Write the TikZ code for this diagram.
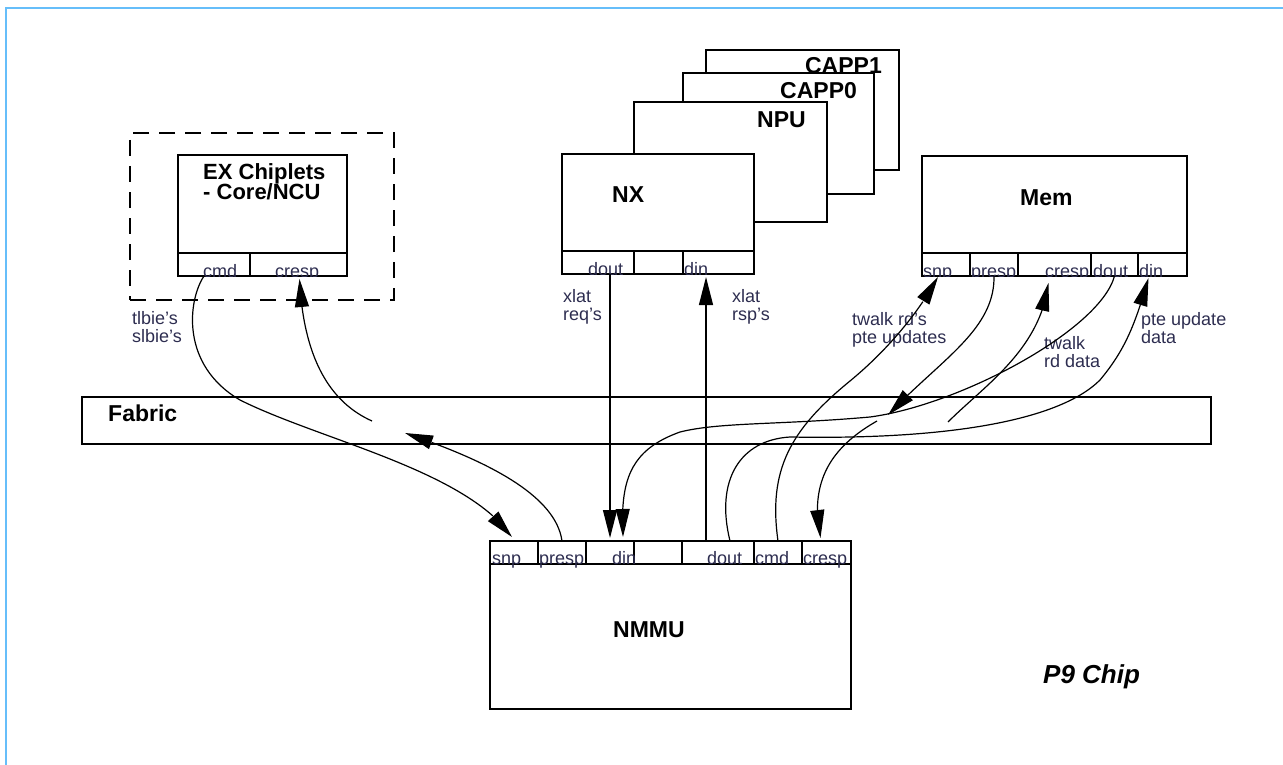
\documentclass[tikz,border=0pt]{standalone}
\usepackage{fontspec}
\setmainfont{Liberation Sans}
\usetikzlibrary{arrows.meta,bending,calc}
\definecolor{frameblue}{RGB}{102,190,250}
\definecolor{labelc}{RGB}{45,45,80}
\setlength{\lineskiplimit}{-100pt}
\tikzset{
  box/.style={draw, line width=1.6pt, fill=white, inner sep=0pt, outer sep=0pt, anchor=north west},
  port/.style={box, minimum height=23pt},
  dashframe/.style={draw, line width=1.6pt, dash pattern=on 16pt off 10pt, inner sep=0pt, outer sep=0pt, anchor=north west},
  title/.style={font=\bfseries\fontsize{23}{19}\selectfont, inner sep=0pt, anchor=base west, text=black},
  lab/.style={font=\fontsize{18}{18}\selectfont, inner sep=0pt, text=labelc, align=left, anchor=north west},
  plab/.style={font=\fontsize{18}{18}\selectfont, inner sep=0pt, text=labelc, anchor=base west},
  flow/.style={line width=1.2pt},
  arr/.style={flow, -{Triangle[length=28pt,width=14pt]}},
}
\begin{document}
\begin{tikzpicture}[x=1pt,y=-1pt]
\useasboundingbox (0,0) rectangle (1283,765);
\draw[frameblue, line width=2.5pt] (1283,8) -- (6,8) -- (6,765);

% EX chiplets
\node[dashframe, minimum width=264pt, minimum height=167pt] (exframe) at (130,133) {};
\node[box, minimum width=169pt, minimum height=121pt] (ex) at (178,155) {};
\node[port, minimum width=72pt] (excmd) at (178,253) {};
\node[port, minimum width=97pt] (excresp) at (250,253) {};
\node[lab, font=\bfseries\fontsize{22}{20}\selectfont, text=black] (extxt) at (203,163) {EX Chiplets\\- Core/NCU};
\begin{scope}
  \clip (excmd.north west) rectangle (excresp.south east);
  \node[plab] (excmdl) at (203,277) {cmd};
  \node[plab] (excrespl) at (275,277) {cresp};
\end{scope}

% NX stack
\node[box, minimum width=193pt, minimum height=120pt] (capp1) at (706,50) {};
\node[title, anchor=base east] (capp1t) at (882,74) {CAPP1};
\node[box, minimum width=191pt, minimum height=121pt] (capp0) at (683,73) {};
\node[title] (capp0t) at (780,99) {CAPP0};
\node[box, minimum width=193pt, minimum height=120pt] (npu) at (634,102) {};
\node[title] (nput) at (757,128) {NPU};
\node[box, minimum width=192pt, minimum height=120pt] (nx) at (562,154) {};
\node[title] (nxt) at (612,202) {NX};
\node[port, minimum width=72pt] (nxdout) at (562,251) {};
\node[port, minimum width=49pt] (nxmid) at (634,251) {};
\node[port, minimum width=71pt] (nxdin) at (683,251) {};
\begin{scope}
  \clip (nxdout.north west) rectangle (nxdin.south east);
  \node[plab] (nxdoutl) at (588,275) {dout};
  \node[plab] (nxdinl) at (684,275) {din};
\end{scope}

% Mem
\node[box, minimum width=265pt, minimum height=120pt] (mem) at (922,156) {};
\node[title] (memt) at (1020,205) {Mem};
\node[port, minimum width=48pt] (msnp) at (922,253) {};
\node[port, minimum width=48pt] (mpresp) at (970,253) {};
\node[port, minimum width=73pt] (mcresp) at (1018,253) {};
\node[port, minimum width=47pt] (mdout) at (1091,253) {};
\node[port, minimum width=49pt] (mdin) at (1138,253) {};
\begin{scope}
  \clip (msnp.north west) rectangle (mdin.south east);
  \node[plab] (msnpl) at (923,277) {snp};
  \node[plab] (mprespl) at (971,277) {presp};
  \node[plab] (mcrespl) at (1045,277) {cresp};
  \node[plab] (mdoutl) at (1093,277) {dout};
  \node[plab] (mdinl) at (1139,277) {din};
\end{scope}

% Fabric
\node[box, minimum width=1129pt, minimum height=47pt] (fabric) at (82,397) {};
\node[title] (fabrict) at (108,421) {Fabric};

% NMMU
\node[box, minimum width=361pt, minimum height=168pt] (nmmu) at (490,541) {};
\node[title] (nmmut) at (613,637) {NMMU};
\node[port, minimum height=23pt, minimum width=48pt] (nsnp) at (490,541) {};
\node[port, minimum height=23pt, minimum width=48pt] (npresp) at (538,541) {};
\node[port, minimum height=23pt, minimum width=48pt] (ndin) at (586,541) {};
\node[port, minimum height=23pt, minimum width=48pt] (nblank) at (634,541) {};
\node[port, minimum height=23pt, minimum width=72pt] (ndout) at (682,541) {};
\node[port, minimum height=23pt, minimum width=48pt] (ncmd) at (754,541) {};
\node[port, minimum height=23pt, minimum width=49pt] (ncresp) at (802,541) {};
\node[plab] (nsnpl) at (492,564) {snp};
\node[plab] (nprespl) at (539,564) {presp};
\node[plab] (ndinl) at (612,564) {din};
\node[plab] (ndoutl) at (707,564) {dout};
\node[plab] (ncmdl) at (755,564) {cmd};
\node[plab] (ncrespl) at (803,564) {cresp};

\node[title, font=\bfseries\itshape\fontsize{26}{26}\selectfont] (chip) at (1043,683) {P9 Chip};

% flow labels
\node[lab] (l1) at (132,311) {tlbie's\\slbie's};
\node[lab] (l2) at (563,289) {xlat\\req's};
\node[lab] (l3) at (732,289) {xlat\\rsp's};
\node[lab] (l4) at (852,312) {twalk rd's\\pte updates};
\node[lab] (l5) at (1044,336) {twalk\\rd data};
\node[lab] (l6) at (1141,312) {pte update\\data};

% free ends inside the fabric
\coordinate (fabL1) at (405,433);
\coordinate (fabL2) at (372,421);
\coordinate (fabR1) at (888,415);
\coordinate (fabR2) at (877,421);
\coordinate (fabR3) at (948,422);

% connectors
\draw[arr] ($(excmd.south)+(-10,0)$) .. controls (188,300) and (180,365) .. (240,400) .. controls (320,440) and (465,470) .. ($(nsnp.north)+(-2,-4)$);
\draw[arr] (npresp.north) .. controls (555,490) and (470,455) .. (fabL1);
\draw[arr] (fabL2) .. controls (325,400) and (303,350) .. ($(excresp.south)+(1,3)$);
\draw[arr] (ndin.north |- nxdout.south) -- ($(ndin.north)+(0,-3)$);
\draw[arr] ($(ndout.north)+(-12,0)$) -- ($(nxdin.south)+(-12.5,3)$);
\draw[arr] (mdout.south) .. controls (1100,330) and (960,405) .. (870,417) .. controls (780,425) and (720,422) .. (680,432) .. controls (630,450) and (620,480) .. ($(ndin.north)+(13,-4)$);
\draw[arr] (ncmd.north) .. controls (768,470) and (790,430) .. (850,381) .. controls (890,348) and (920,310) .. ($(msnp.south)+(-8,1)$);
\draw[arr] (mpresp.south) .. controls (995,330) and (940,360) .. (fabR1);
\draw[arr] (fabR2) .. controls (835,445) and (808,478) .. ($(ncresp.north)+(-6,-3)$);
\draw[arr] (fabR3) .. controls (985,385) and (1040,350) .. ($(mcresp.south)+(-6,7)$);
\draw[arr] ($(ndout.north)+(12,0)$) .. controls (715,480) and (740,440) .. (790,437) .. controls (950,440) and (1060,420) .. (1100,380) .. controls (1125,350) and (1135,325) .. ($(mdin.south)+(-14,2)$);
\end{tikzpicture}
\end{document}
